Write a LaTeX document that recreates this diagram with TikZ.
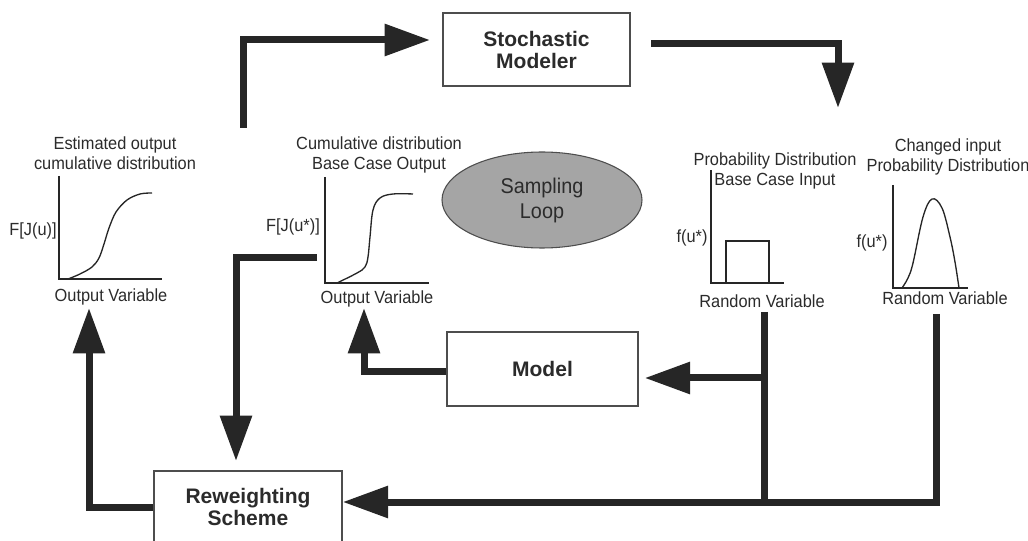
\documentclass[tikz,border=0pt]{standalone}
\usepackage{fontspec}
\setmainfont{Liberation Sans}
\newfontfamily\labfont[FakeStretch=0.93]{Liberation Sans}
\usetikzlibrary{arrows.meta,shapes.geometric}
\definecolor{ink}{HTML}{262626}
\definecolor{txt}{HTML}{2B2B2B}
\definecolor{frame}{HTML}{4D4D4D}
\definecolor{loopfill}{HTML}{A5A5A5}
\begin{document}
\begin{tikzpicture}[x=0.75pt,y=-0.75pt,
  flow/.style={draw=ink, line width=5.25pt, line join=miter},
  arr/.style={flow, -{Triangle[length=34pt,width=23pt]}},
  box/.style={draw=frame, line width=1.1pt, fill=white, text=txt,
    font=\bfseries\fontsize{15.75}{16.5}\selectfont, align=center, inner sep=0},
  lab/.style={text=txt, font=\labfont\fontsize{13.2}{15}\selectfont, align=center, inner sep=0},
  axis/.style={draw=ink, line width=1pt},
  curve/.style={draw=ink, line width=1pt}
]
\useasboundingbox (0,0) rectangle (1028,541);

% process boxes
\node[box, minimum width=140.25pt, minimum height=54.75pt] (sm) at (536.5,49.5) {Stochastic\\Modeler};
\node[box, minimum width=143.25pt, minimum height=55.5pt] (mdl) at (542.5,369) {Model};
\node[box, minimum width=141pt, minimum height=54pt] (rw) at (248,507) {Reweighting\\Scheme};
\node[ellipse, draw=frame, line width=0.8pt, fill=loopfill, text=txt, inner sep=0,
  minimum width=150pt, minimum height=72pt, align=center,
  font=\labfont\fontsize{16}{18.75}\selectfont] (loop) at (542,200) {Sampling\\Loop};

% estimated output cumulative distribution
\node[lab] (t1) at (115,153) {Estimated output\\cumulative distribution};
\node[lab] (y1) at (33,231) {F[J(u)]};
\node[lab] (x1) at (111,297) {Output Variable};
\draw[axis] (59,176) -- (59,279) -- (162,279);
\draw[curve] plot[smooth, tension=0.55] coordinates
  {(68,279) (80,274) (92,267) (99,258) (104,244) (109,228) (116,212) (127,200) (140,194) (152,193)};

% base case cumulative distribution
\node[lab] (t2) at (379,155) {Cumulative distribution\\Base Case Output};
\node[lab] (y2) at (293,227) {F[J(u*)]};
\node[lab] (x2) at (377,299) {Output Variable};
\draw[axis] (325,177) -- (325,283) -- (429,283);
\draw[curve] plot[smooth, tension=0.6] coordinates
  {(337,283) (357,273) (365,267) (368,257) (370,237) (373,210) (380,198) (393,194) (413,194)};

% base case input density
\node[lab] (t3) at (775,171) {Probability Distribution\\Base Case Input};
\node[lab] (y3) at (692,238) {f(u*)};
\node[lab] (x3) at (762,301) {Random Variable};
\draw[axis] (711,170) -- (711,283) -- (784,283);
\draw[curve] (726,283) -- (726,241) -- (769,241) -- (769,283);

% changed input density
\node[lab] (t4) at (948,156.5) {Changed input\\Probability Distribution};
\node[lab] (y4) at (872,243) {f(u*)};
\node[lab] (x4) at (945,298) {Random Variable};
\draw[axis] (893,185) -- (893,288) -- (968,288);
\draw[curve] plot[smooth, tension=0.6] coordinates
  {(902,288) (908,278) (913,263) (923,217) (932,199) (942,208) (950,237) (955,262) (959,288)};

% flow connectors
\coordinate (a0) at (243,128);
\coordinate (a1) at (430,40);
\draw[arr] (a0) |- (a1);

\coordinate (b0) at (651,44);
\coordinate (b1) at (838,108);
\draw[arr] (b0) -| (b1);

\coordinate (c0) at (317,258);
\coordinate (c1) at (236,461);
\draw[arr] (c0) -| (c1);

\coordinate (d1) at (89,308);
\draw[arr] (rw.west) -| (d1);

\coordinate (e1) at (364,308);
\draw[arr] ([yshift=-2.25pt]mdl.west) -| (e1);

\coordinate (f0) at (764,312);
\coordinate (f1) at (764,502);
\coordinate (f2) at (764,378);
\draw[flow] (f0) -- (f1);
\draw[arr, shorten >=4.5pt] (f2) -- (mdl.east |- f2);

\coordinate (g0) at (936,314);
\draw[arr] (g0) |- (rw.east |- f1);
\end{tikzpicture}
\end{document}
